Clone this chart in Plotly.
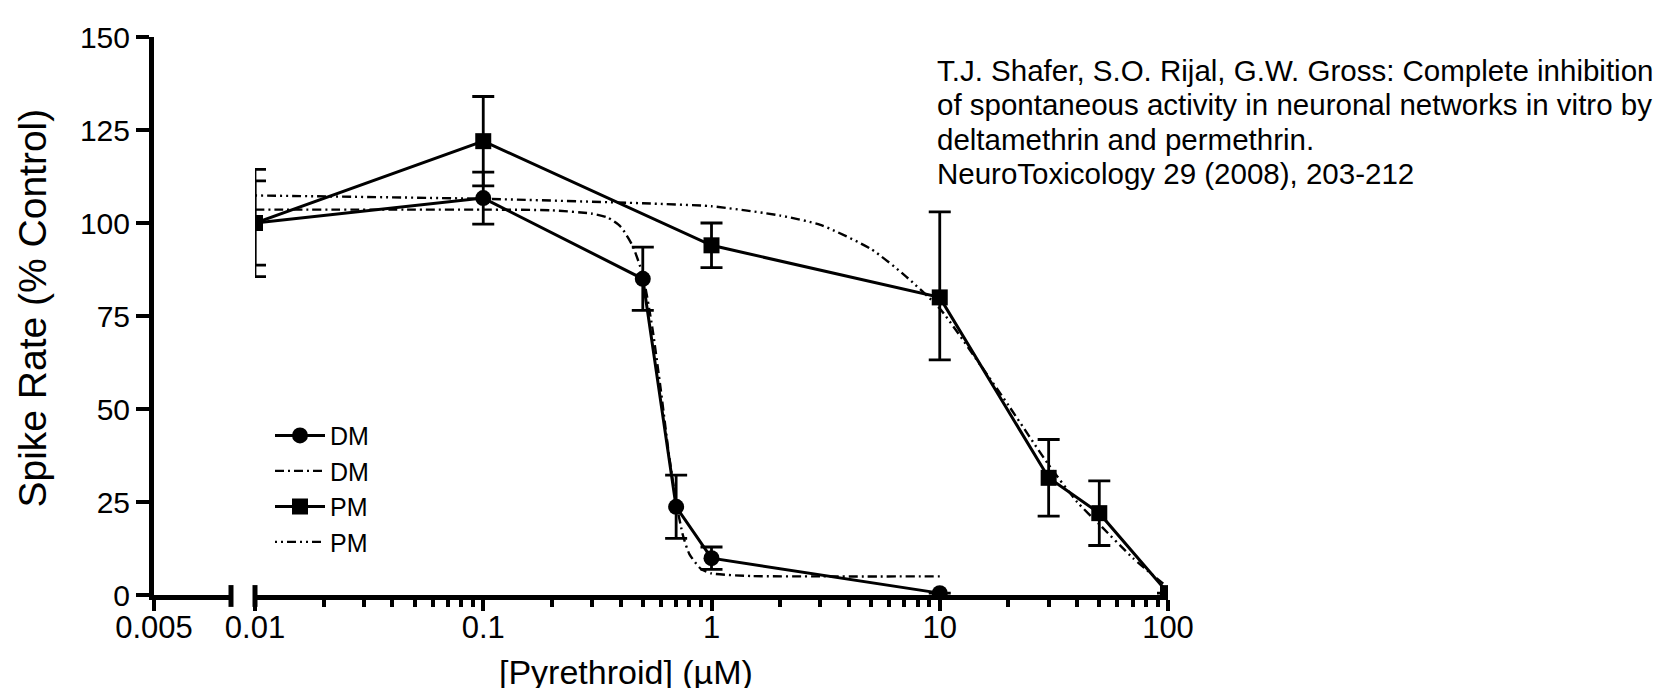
import plotly.graph_objects as go

# ---- data ----
dm_x = [0.01, 0.1, 0.5, 0.7, 1, 10]
dm_y = [100, 106.7, 85, 23.7, 9.9, 0.5]
dm_err = [11.3, 7, 8.5, 8.5, 3, 0]

pm_x = [0.01, 0.1, 1, 10, 30, 50, 100]
pm_y = [100, 122, 94, 80, 31.5, 22, 0.5]
pm_err_up = [14.4, 12, 6, 23, 10.3, 8.7, 0]
pm_err_down = [14.4, 12, 6, 16.8, 10.3, 8.7, 0]

dm_fit_x = [0.01, 0.05, 0.1, 0.2, 0.3, 0.35, 0.4, 0.45, 0.5, 0.55, 0.6, 0.65, 0.7, 0.75, 0.8, 0.9, 1, 1.5, 3, 10]
dm_fit_y = [103.6, 103.6, 103.6, 103.4, 102.5, 101.5, 99, 94, 86, 72, 55, 38, 25, 16, 11, 7, 5.8, 5.1, 5, 5]

pm_fit_x = [0.01, 0.1, 0.5, 1, 2, 3, 5, 7, 10, 15, 20, 30, 40, 50, 70, 100]
pm_fit_y = [107.4, 106.5, 105.3, 104.5, 102, 99.5, 93, 86, 77, 62, 51, 35, 25, 19, 10, 2]

y_ticks = [0, 25, 50, 75, 100, 125, 150]
x_ticks = [0.01, 0.1, 1, 10, 100]
x_ticktext = ["0.01", "0.1", "1", "10", "100"]
left_tick_text = "0.005"

citation_lines = [
    "T.J. Shafer, S.O. Rijal, G.W. Gross: Complete inhibition",
    "of spontaneous activity in neuronal networks in vitro by",
    "deltamethrin and permethrin.",
    "NeuroToxicology 29 (2008), 203-212",
]

# ---- layout geometry (pixels) ----
W, H = 1668, 688
L, R, T, B = 146, 1160, 24, 587
pw, ph = R - L, B - T
def px(x):
    return (x - L) / pw
def py(y):
    return (B - y) / ph

FONT = "Liberation Sans, Arial, sans-serif"

fig = go.Figure()

fig.add_trace(go.Scatter(
    x=dm_fit_x, y=dm_fit_y, mode="lines", name="DM", legendrank=2,
    line=dict(color="black", width=2.4, dash="9px,4px,2px,4px", shape="spline", smoothing=0.6),
))
fig.add_trace(go.Scatter(
    x=pm_fit_x, y=pm_fit_y, mode="lines", name="PM", legendrank=4,
    line=dict(color="black", width=2.4, dash="2px,4px,2px,4px,9px,4px", shape="spline", smoothing=0.6),
))
fig.add_trace(go.Scatter(
    x=dm_x, y=dm_y, mode="lines+markers", name="DM", legendrank=1,
    line=dict(color="black", width=3),
    marker=dict(symbol="circle", size=16, color="black"),
    error_y=dict(type="data", array=dm_err, visible=True, color="black", thickness=2.8, width=11),
))
fig.add_trace(go.Scatter(
    x=pm_x, y=pm_y, mode="lines+markers", name="PM", legendrank=3,
    line=dict(color="black", width=3),
    marker=dict(symbol="square", size=16, color="black"),
    error_y=dict(type="data", symmetric=False, array=pm_err_up, arrayminus=pm_err_down,
                 visible=True, color="black", thickness=2.8, width=11),
))
# dummy trace so the left (broken) axis segment exists
fig.add_trace(go.Scatter(x=[0.5], y=[None], xaxis="x2", yaxis="y",
                         showlegend=False, hoverinfo="skip", mode="markers"))

seg_end = px(223)
main_start = px(247)

fig.update_layout(
    width=W, height=H,
    margin=dict(l=L, r=W - R, t=T, b=H - B),
    paper_bgcolor="white", plot_bgcolor="white",
    font=dict(family=FONT, color="black"),
    showlegend=True,
    legend=dict(x=px(262), y=py(403), xanchor="left", yanchor="top",
                bgcolor="rgba(0,0,0,0)", font=dict(size=25, family=FONT),
                itemwidth=50, tracegroupgap=0),
    xaxis=dict(
        type="log", range=[-2, 2], domain=[main_start, 1], anchor="y",
        showgrid=False, zeroline=False, showline=True, linecolor="black", linewidth=5,
        tickmode="array", tickvals=x_ticks, ticktext=x_ticktext,
        ticks="outside", ticklen=11, tickwidth=4, tickcolor="black",
        tickfont=dict(size=31, family=FONT), ticklabelstandoff=-10,
        minor=dict(ticks="outside", ticklen=7, tickwidth=4, tickcolor="black", dtick="D1"),
    ),
    xaxis2=dict(
        range=[0, 1], domain=[0, seg_end], anchor="y",
        showgrid=False, zeroline=False, showline=True, linecolor="black", linewidth=5,
        tickmode="array", tickvals=[0], ticktext=[left_tick_text],
        ticks="outside", ticklen=11, tickwidth=4, tickcolor="black",
        tickfont=dict(size=31, family=FONT), ticklabelstandoff=-10,
    ),
    yaxis=dict(
        range=[0, 150], domain=[0, 1], anchor="x2",
        showgrid=False, zeroline=False, showline=True, linecolor="black", linewidth=5,
        tickmode="array", tickvals=y_ticks,
        ticks="outside", ticklen=13, tickwidth=4, tickcolor="black",
        tickfont=dict(size=30, family=FONT), ticklabelstandoff=0,
    ),
)

# break caps on the x axis
for xr in ["x2 domain", "x domain"]:
    xv = 1 if xr == "x2 domain" else 0
    fig.add_shape(type="line", xref=xr, yref="paper", x0=xv, x1=xv,
                  y0=py(B + 12), y1=py(B - 10), line=dict(color="black", width=5))

# axis titles and citation
fig.add_annotation(text="Spike Rate (% Control)", textangle=-90, xref="paper", yref="paper",
                   x=px(25), y=py(298), xanchor="center", yanchor="middle", showarrow=False,
                   font=dict(size=39, family=FONT))
fig.add_annotation(text="[Pyrethroid] (\u00b5M)", xref="paper", yref="paper",
                   x=px(618), y=py(665), xanchor="center", yanchor="middle", showarrow=False,
                   font=dict(size=34, family=FONT))
for line_text, yc in zip(citation_lines, [58, 92, 127, 162]):
    fig.add_annotation(text=line_text, xref="paper", yref="paper", align="left",
                       x=px(927), y=py(yc), xanchor="left", yanchor="middle", showarrow=False,
                       font=dict(size=29.5, family=FONT))

fig.write_html("out.html")
